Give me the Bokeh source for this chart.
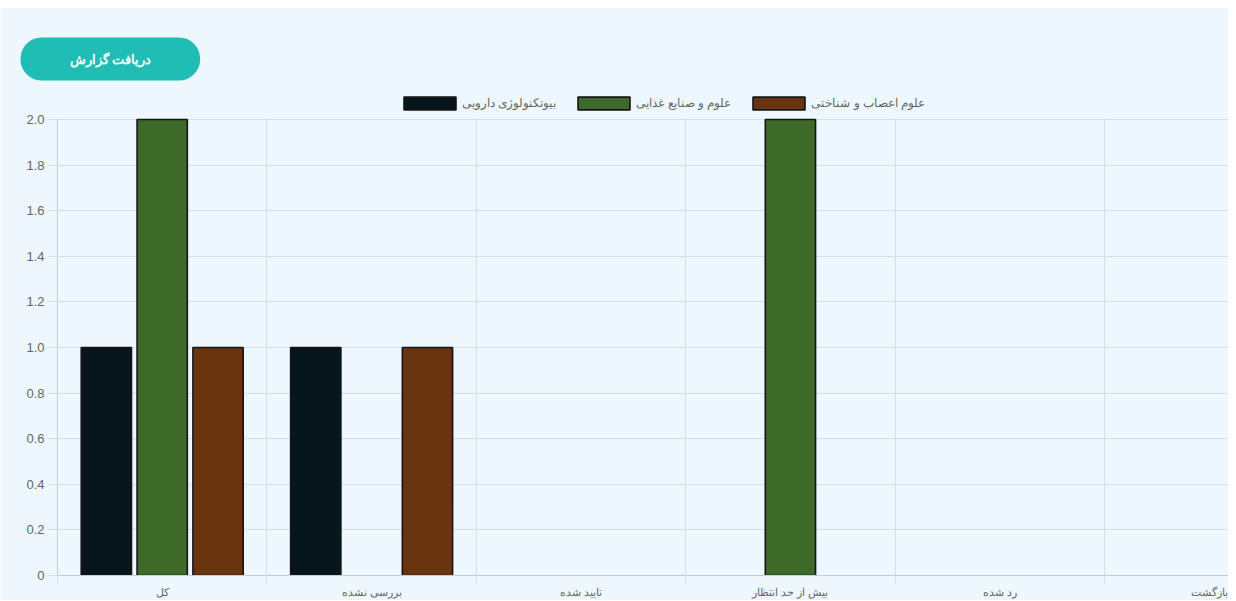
from bokeh.plotting import figure
from bokeh.models import (Range1d, FixedTicker, Legend, LegendItem, ColumnDataSource,
                          PrintfTickFormatter, Title, BoxAnnotation)
from bokeh.transform import dodge
from bokeh.embed import file_html
from bokeh.resources import INLINE

# ---- data ----
categories = ["کل", "بررسی نشده", "تایید شده", "بیش از حد انتظار", "رد شده", "بازگشت"]
series_names = ["بیوتکنولوژی دارویی", "علوم و صنایع غذایی", "علوم اعصاب و شناختی"]
biotech = [1, 1, 0, 0, 0, 0]
food = [2, 0, 0, 2, 0, 0]
neuro = [1, 1, 0, 0, 0, 0]
y_ticks = [0, 0.2, 0.4, 0.6, 0.8, 1.0, 1.2, 1.4, 1.6, 1.8, 2.0]
button_text = "دریافت گزارش"

# ---- style ----
BG = "#eef7fd"
GRID = "#d9dee2"
AXIS = "#c6ccd1"
TXT = "#666666"
colors = ["#07151c", "#3d6a28", "#6b3411"]
offsets = [-0.2667, 0.0, 0.2667]
y_max = max(y_ticks)

# frame extends above the value axis to hold the legend (0..2 spans 456 px)
p = figure(frame_width=1171, frame_height=487, title=None,
           x_range=Range1d(-0.5, 5.092), y_range=Range1d(0, y_max * 487 / 456),
           output_backend="svg", toolbar_location=None,
           min_border_left=57, min_border_right=0,
           min_border_top=81, min_border_bottom=21)
p.margin = (7, 8, 4, 0)
p.background_fill_color = BG
p.border_fill_color = BG
p.outline_line_color = None

n = len(categories)
renderers = []
for vals, col, off in zip([biotech, food, neuro], colors, offsets):
    xs = [i for i, v in enumerate(vals) if v > 0]
    tops = [v for v in vals if v > 0]
    src = ColumnDataSource(dict(x=xs, top=tops))
    r = p.vbar(x=dodge("x", off, range=p.x_range), top="top", width=0.24, bottom=0,
               source=src, fill_color=col, line_color="#151515", line_width=1.6)
    renderers.append(r)

# x axis: labels at category centers, tick marks/grid at boundaries
xt = FixedTicker(ticks=list(range(n)), minor_ticks=[i - 0.5 for i in range(n + 1)])
p.xaxis.ticker = xt
p.xgrid.ticker = xt
p.xaxis.major_label_overrides = {i: c for i, c in enumerate(categories)}
p.xaxis.major_tick_out = 0
p.xaxis.major_tick_in = 0
p.xaxis.major_tick_line_color = None
p.xaxis.minor_tick_out = 8
p.xaxis.minor_tick_in = 0
p.xaxis.minor_tick_line_color = GRID
p.xaxis.axis_line_color = AXIS
p.xaxis.major_label_standoff = 2
p.xaxis.major_label_text_font_size = "11px"
p.xaxis.major_label_text_color = TXT
p.xaxis.major_label_text_font = "Liberation Sans"
p.xgrid.grid_line_color = None
p.xgrid.minor_grid_line_color = GRID

yt = FixedTicker(ticks=y_ticks, minor_ticks=[])
p.yaxis.ticker = yt
p.ygrid.ticker = yt
p.yaxis.bounds = (0, y_max)
p.yaxis.formatter = PrintfTickFormatter(format="%.1f")
p.yaxis.major_label_overrides = {0: "0"}
p.yaxis.major_tick_out = 10
p.yaxis.major_tick_in = 0
p.yaxis.minor_tick_line_color = None
p.yaxis.major_tick_line_color = GRID
p.yaxis.axis_line_color = AXIS
p.yaxis.major_label_standoff = 3
p.yaxis.major_label_text_font_size = "13px"
p.yaxis.major_label_text_color = TXT
p.yaxis.major_label_text_font = "Liberation Sans"
p.ygrid.grid_line_color = GRID

# hide the vertical grid lines above the top of the value axis
p.add_layout(BoxAnnotation(bottom=y_max * 1.002, fill_color=BG, fill_alpha=1.0,
                           line_color=None, level="underlay"))

legend = Legend(items=[LegendItem(label=nm, renderers=[r]) for nm, r in zip(series_names, renderers)],
                orientation="horizontal", location=(340, 464),
                glyph_width=65, glyph_height=16, label_height=16,
                label_text_font_size="12px", label_text_color=TXT,
                label_text_font="Liberation Sans",
                padding=0, margin=0, spacing=15, label_standoff=0,
                border_line_color=None, background_fill_alpha=0)
p.add_layout(legend)

# report button (rendered as a title box above the chart)
button = Title(text=button_text, align="left", offset=-37,
               text_color="white", text_font_style="bold", text_font_size="13px",
               text_font="Liberation Sans", background_fill_color="#20bdb4",
               border_radius=21, padding=(49, 14), standoff=16)
p.add_layout(button, "above")
spacer = Title(text=" ", text_font_size="12px", standoff=1)
p.add_layout(spacer, "above")

open("out.html", "w").write(file_html(p, INLINE))
